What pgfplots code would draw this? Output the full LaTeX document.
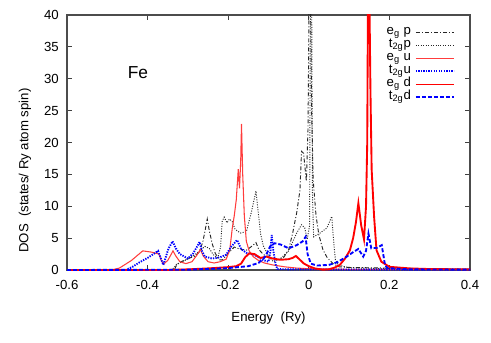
\documentclass[border=0pt]{standalone}
\usepackage{fontspec}
\setmainfont{Liberation Sans}
\usepackage{pgfplots}
\pgfplotsset{compat=1.18}
\usetikzlibrary{calc}
\definecolor{cRedL}{RGB}{255,60,60}
\definecolor{cRed}{RGB}{255,0,0}
\definecolor{cBlue}{RGB}{0,0,255}
\newcommand{\ff}{\fontsize{9.9}{12}\selectfont}

\begin{document}
\begin{tikzpicture}
\begin{axis}[
  scale only axis, width=302.25pt, height=191.25pt,
  xmin=-0.6, xmax=0.4, ymin=0, ymax=40,
  xtick={-0.6,-0.4,-0.2,0,0.2,0.4},
  xticklabels={-0.6,-0.4,-0.2,0,0.2,0.4},
  ytick={0,5,...,40},
  tick align=inside, major tick length=3.75pt,
  tick style={black!75, line width=0.6pt},
  axis line style={black!70, line width=0.8pt},
  /pgf/number format/assume math mode=true,
  tick label style={font=\ff},
  xticklabel style={inner sep=0pt, anchor=north, yshift=-7.5pt},
  yticklabel style={inner sep=0pt, anchor=east, xshift=-6pt},
  xlabel={Energy\ \ (Ry)},
  ylabel={DOS\ \ (states/ Ry atom spin)},
  label style={font=\ff},
  xlabel style={at={(axis description cs:0.5,0)}, anchor=center, yshift=-36pt},
  ylabel style={at={(axis description cs:-0.1042,0.39)}, anchor=center},
  legend cell align=right, legend plot pos=right,
  legend image code/.code={\draw[#1] (0pt,0pt) -- (28.5pt,0pt);},
  legend style={draw=none, fill=none, font=\ff, at={(rel axis cs:1,1)}, anchor=north east,
    xshift=-11.25pt, yshift=-8pt, inner sep=0pt, column sep=3pt,
    nodes={inner sep=0pt, text height=6.5pt, text depth=3.25pt}},
]
% e_g p
\addplot[black!85, line width=0.7pt, dash pattern=on 3pt off 1.5pt on 0.75pt off 1.5pt] coordinates {
(-0.6,0) (-0.34,0) (-0.333,0.1) (-0.328,0.8) (-0.32,1.2) (-0.30,1.8) (-0.285,2.1) (-0.272,2.8)
(-0.263,4.4) (-0.257,6.3) (-0.252,8.0) (-0.247,6.2) (-0.240,4.2) (-0.232,2.6) (-0.222,1.6)
(-0.214,1.6) (-0.200,2.6) (-0.185,3.6) (-0.172,3.3) (-0.155,3.1) (-0.142,3.7) (-0.131,4.3)
(-0.124,3.2) (-0.112,2.4) (-0.095,1.9) (-0.075,1.6) (-0.062,2.0) (-0.050,3.2) (-0.040,5.8)
(-0.030,9.0) (-0.022,12.5) (-0.018,18.6) (-0.013,18.3) (-0.006,13.9) (-0.002,22) (0.001,45)
(0.004,45) (0.007,25) (0.011,14) (0.018,8.5) (0.025,5.5) (0.035,3.2) (0.045,2.0) (0.06,1.0)
(0.075,0.5) (0.1,0.4) (0.15,0.35) (0.2,0.3) (0.3,0.2) (0.4,0.1)};
\addlegendentry{e\textsubscript{g} p}
% t_2g p
\addplot[black!85, line width=0.7pt, dash pattern=on 0.75pt off 1.1pt] coordinates {
(-0.6,0) (-0.345,0) (-0.335,0.3) (-0.328,0.9) (-0.31,1.4) (-0.29,2.1) (-0.272,2.9) (-0.258,3.7)
(-0.247,3.4) (-0.237,2.4) (-0.226,1.9) (-0.219,3.6) (-0.215,7.6) (-0.21,8.3) (-0.203,7.4)
(-0.197,8.0) (-0.19,7.6) (-0.183,6.4) (-0.17,5.8) (-0.155,6.0) (-0.142,9.2) (-0.131,12.4)
(-0.126,9.4) (-0.12,5.8) (-0.113,3.8) (-0.1,2.2) (-0.088,1.3) (-0.07,1.8) (-0.05,3.0)
(-0.03,5.8) (-0.018,7.1) (-0.01,6.6) (-0.004,4.8) (0.002,7) (0.004,45) (0.007,45) (0.009,12)
(0.012,5.2) (0.028,5.8) (0.045,6.6) (0.057,8.4) (0.061,5.0) (0.066,1.6) (0.073,0.8)
(0.1,0.35) (0.2,0.2) (0.3,0.15) (0.4,0.1)};
\addlegendentry{t\textsubscript{2g}p}
% e_g u
\addplot[color=cRedL, line width=0.8pt] coordinates {
(-0.6,0) (-0.49,0) (-0.47,0.3) (-0.44,1.5) (-0.412,3.0) (-0.39,2.8) (-0.372,2.5) (-0.366,1.5)
(-0.361,0.9) (-0.35,1.5) (-0.342,2.4) (-0.337,3.0) (-0.33,2.2) (-0.32,1.3) (-0.305,1.0)
(-0.29,1.3) (-0.278,2.3) (-0.269,3.2) (-0.262,2.2) (-0.25,1.3) (-0.235,1.1) (-0.22,1.3)
(-0.205,1.7) (-0.196,3.2) (-0.19,6.5) (-0.185,8.5) (-0.18,11) (-0.175,15.8) (-0.172,12.8)
(-0.169,17) (-0.167,22.9) (-0.164,15) (-0.16,8.5) (-0.155,4.5) (-0.148,3.0) (-0.138,2.1)
(-0.125,1.5) (-0.11,1.1) (-0.09,0.8) (-0.06,0.5) (-0.03,0.3) (0.0,0.2) (0.1,0.1) (0.4,0.05)};
\addlegendentry{e\textsubscript{g} u}
% t_2g u
\addplot[cBlue, line width=1.4pt, dash pattern=on 1pt off 0.9pt] coordinates {
(-0.6,0) (-0.455,0) (-0.44,0.4) (-0.42,1.2) (-0.40,1.9) (-0.383,2.6) (-0.374,3.0) (-0.367,1.8)
(-0.361,0.8) (-0.355,2.0) (-0.348,3.4) (-0.338,4.5) (-0.33,3.4) (-0.32,2.5) (-0.30,1.8)
(-0.287,2.6) (-0.277,3.7) (-0.271,4.4) (-0.265,3.0) (-0.258,2.1) (-0.24,1.8) (-0.22,2.0)
(-0.205,2.4) (-0.192,3.7) (-0.178,4.7) (-0.168,3.3) (-0.155,2.7) (-0.135,2.4) (-0.115,1.6)
(-0.1,1.3) (-0.095,3.0) (-0.092,5.5) (-0.088,3.0) (-0.082,0.8) (-0.078,0.15) (-0.05,0.1)
(0.1,0.05) (0.4,0.05)};
\addlegendentry{t\textsubscript{2g}u}
% e_g d
\addplot[cRed, line width=1.4pt] coordinates {
(-0.6,0) (-0.35,0) (-0.3,0.1) (-0.25,0.25) (-0.2,0.45) (-0.18,0.6) (-0.168,1.0) (-0.158,2.0)
(-0.148,2.6) (-0.135,2.5) (-0.12,1.9) (-0.105,2.1) (-0.09,1.8) (-0.07,1.6) (-0.05,1.7)
(-0.04,1.9) (-0.032,2.2) (-0.022,1.6) (-0.012,1.0) (0.0,0.6) (0.015,0.25) (0.035,0.05)
(0.05,0.1) (0.065,0.4) (0.077,0.8) (0.09,1.8) (0.102,3.1) (0.11,5.0) (0.117,7.5) (0.123,10.5)
(0.13,7.0) (0.137,4.8) (0.142,10) (0.145,20) (0.147,45) (0.150,45) (0.153,28) (0.156,15.7)
(0.162,8.4) (0.168,3.1) (0.18,1.3) (0.2,0.5) (0.25,0.25) (0.3,0.15) (0.4,0.1)};
\addlegendentry{e\textsubscript{g} d}
% t_2g d
\addplot[cBlue, line width=1.4pt, dash pattern=on 3pt off 1.5pt] coordinates {
(-0.6,0) (-0.3,0.05) (-0.2,0.3) (-0.15,0.6) (-0.125,1.1) (-0.112,1.8) (-0.104,2.6) (-0.096,3.7)
(-0.085,4.2) (-0.07,4.0) (-0.05,3.4) (-0.03,3.9) (-0.015,4.5) (-0.008,5.2) (-0.003,2.5)
(0.005,1.0) (0.02,0.7) (0.05,0.8) (0.07,1.2) (0.094,2.1) (0.11,2.8) (0.123,3.3) (0.135,2.1)
(0.142,3.0) (0.148,5.7) (0.155,3.4) (0.17,3.5) (0.181,3.9) (0.189,0.8) (0.195,0.3)
(0.25,0.1) (0.4,0.05)};
\addlegendentry{t\textsubscript{2g}d}
\node[font=\fontsize{13}{15}\selectfont] at (axis cs:-0.424,30.9) {Fe};
\end{axis}
\pgfresetboundingbox
\path[use as bounding box] ($(current axis.south west)+(-50.25pt,-54pt)$) rectangle ($(current axis.north east)+(15.75pt,11.25pt)$);
\end{tikzpicture}
\end{document}
